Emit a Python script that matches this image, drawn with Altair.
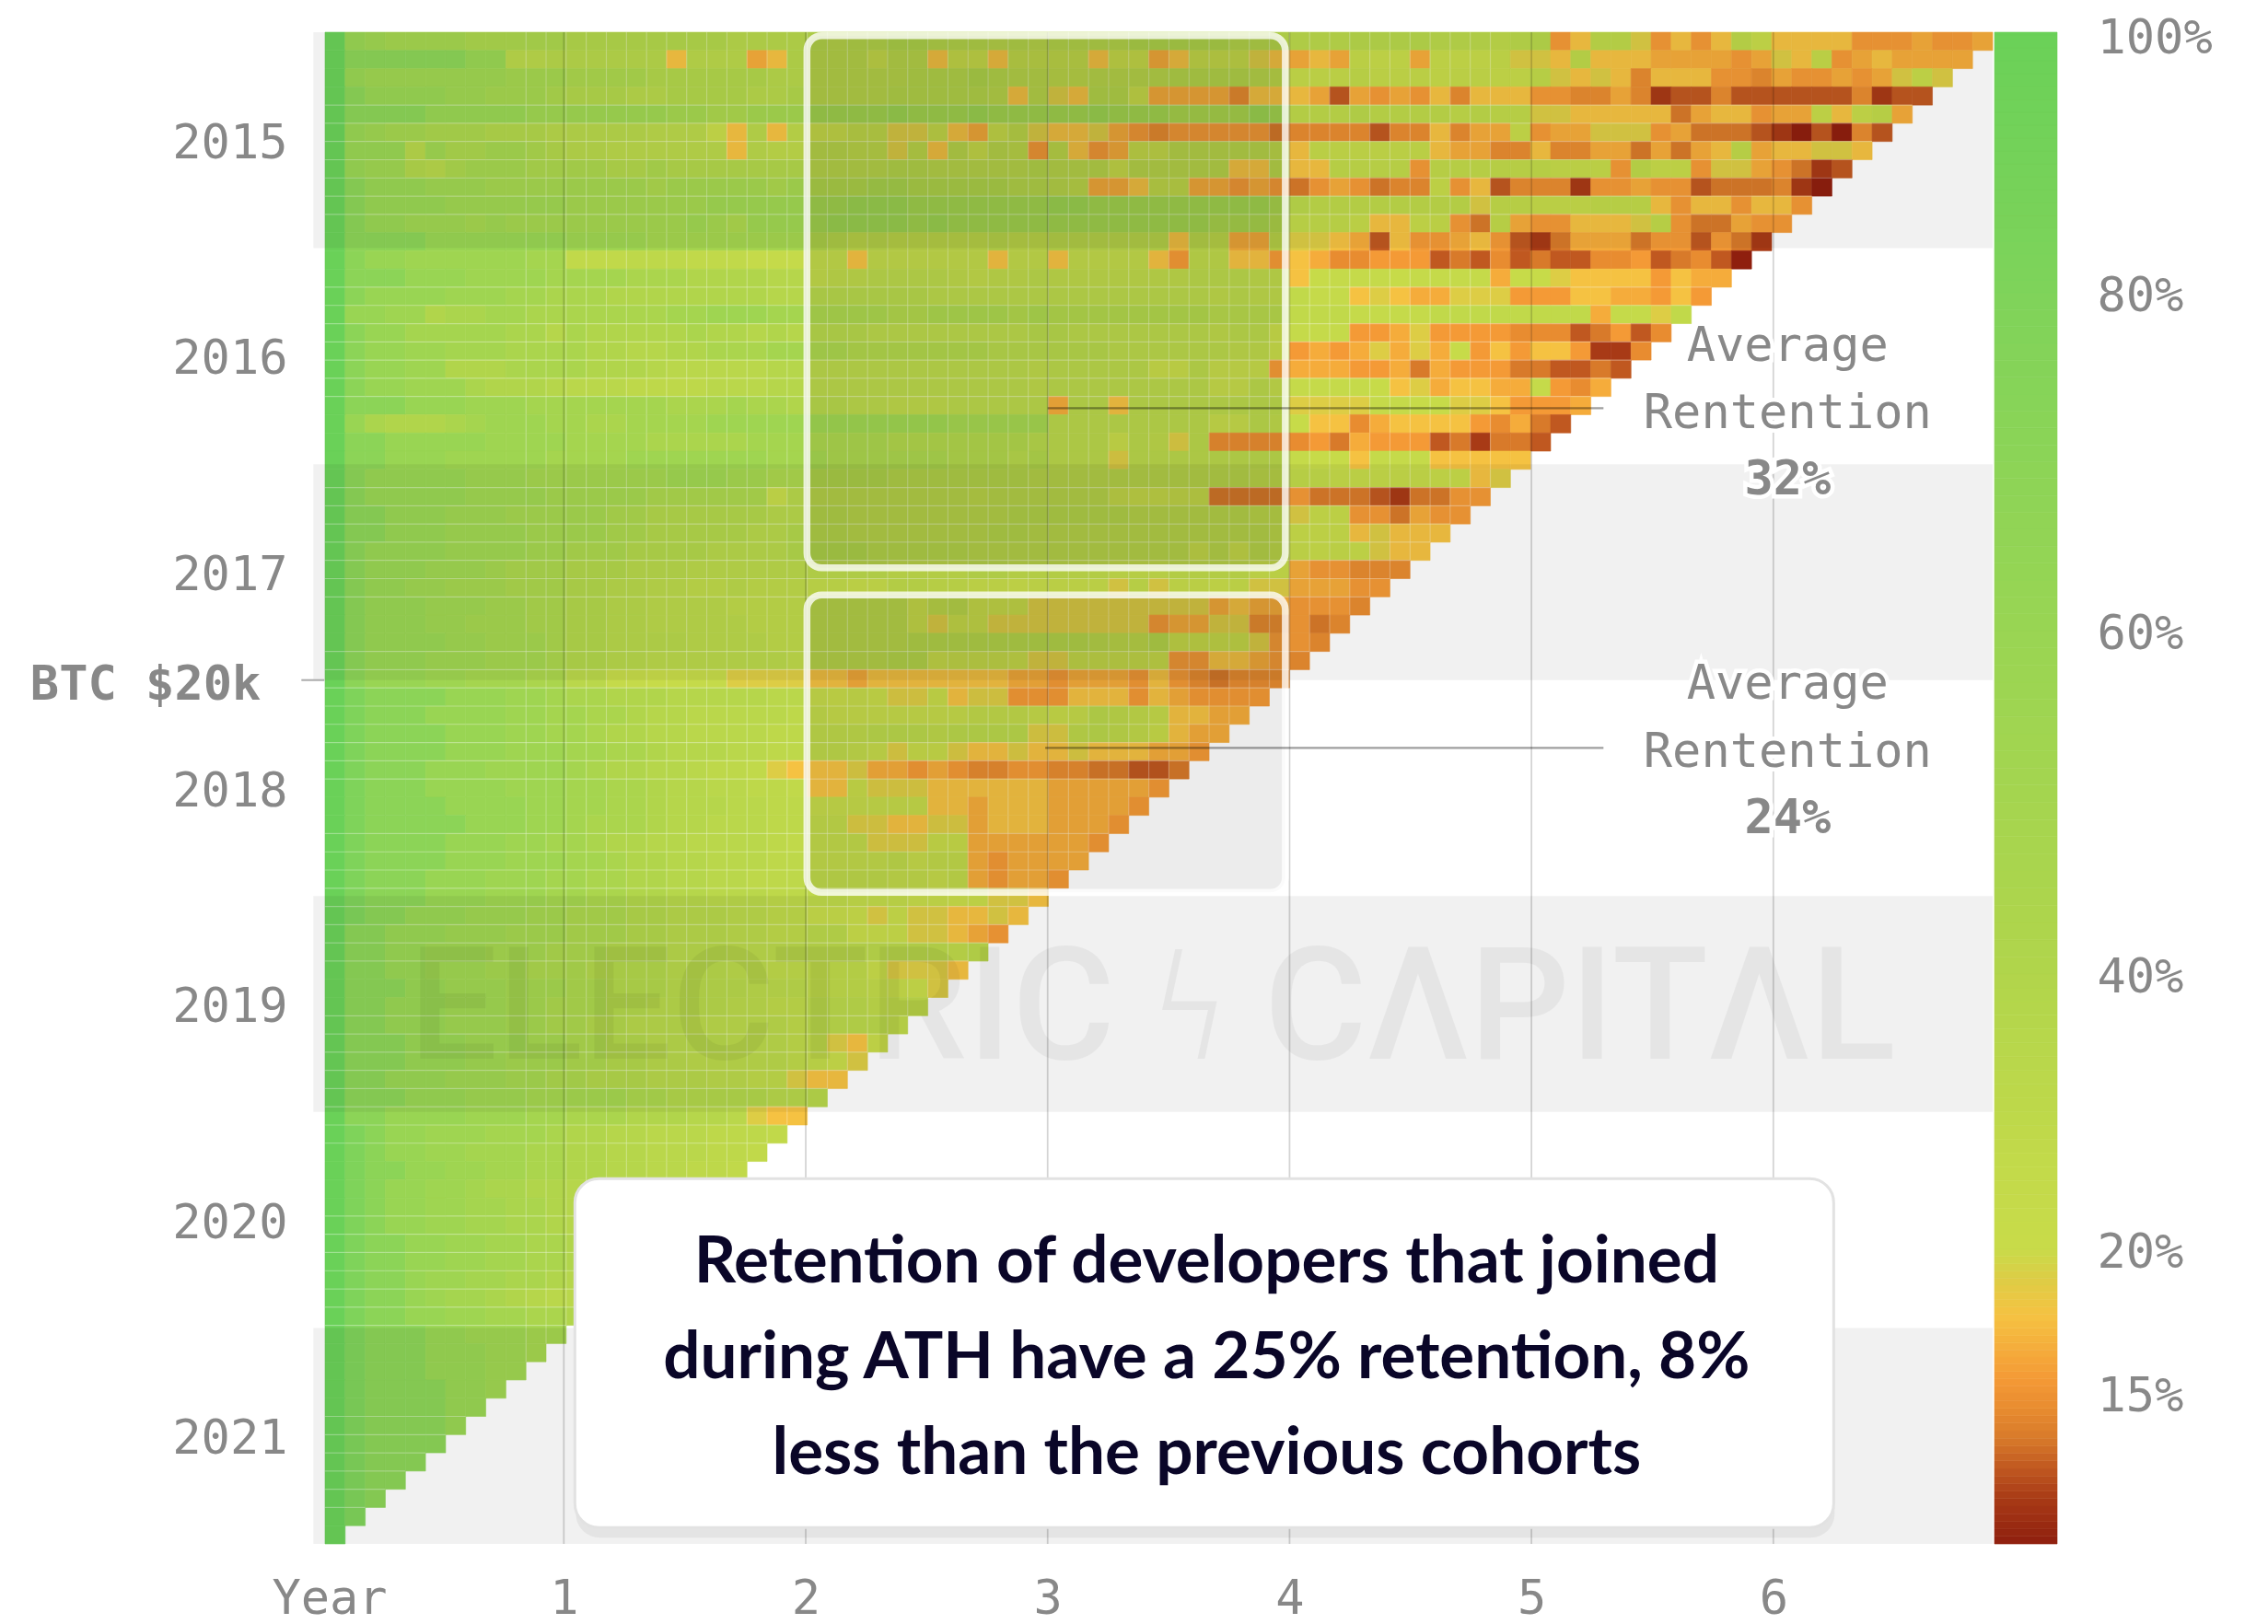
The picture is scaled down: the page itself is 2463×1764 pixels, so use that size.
import altair as alt
import pandas as pd

alt.data_transformers.disable_max_rows()

# Retention per cohort (top row = Jan 2015). One character per
# month since joining, grouped by 12 months; CODE_VALUE turns a character into a percent.
CODE_VALUE = {"0": 10, "1": 11.5, "2": 12.5, "3": 13.5, "4": 14.5, "5": 15.5, "6": 16.5, "7": 17.7,
              "8": 19, "9": 21, "a": 24, "b": 27, "c": 30, "d": 33, "e": 36, "f": 40, "g": 45,
              "h": 50, "i": 55, "j": 60, "k": 70, "l": 80, "m": 100}
ROWS = [
 "mjihhhhggggg ffffffffeeee edeeffeeeded eeeefffffeee dddeeeedddcd e57cc85757c9 77775556556",
 "mkkkkkkjjdde eeeee7ddd67e dddadd7997bb bb79967aaa87 676a996999a8 87c777666656 87a5676666",
 "mjiiiiiiihhh ggggffffffee dddddeeefedd ccddddeeeedc aaabaaa9aa99 b87874777554 655656898",
 "mkjjjjiihhhg fffeeffffeef ddddeeeeed7d 87ee96666477 762656574777 554464122422 22224122",
 "mkkkkjjjjjii iiiiihhgghhh hhhhihhhihhh hhihhhggggih cccdccccbcbb 887777736775 66979b6",
 "mjihhgggfffe eeeeddd97d7c 99bb88a769c8 778654555553 444424474669 566888563332 102042",
 "mjjjeigghhgf eedddddd7dcc ddcc8c7d9dc5 c756aadddddc 7aaaaaa76644 7446636367b6 77887",
 "mjiifeghhhgg ggffgfffffff ddddeeddddde ddd9ddddd77d 77bbbb5bbbbb baaa5c995886 5312",
 "mkjjjiiihhhh hhhhghhhhhgh fffggfffffee dc667bb66565 356534495724 441556552333 410",
 "mkjjjjiiiiii hhhhhhhiiiii hhiiihhhhhhh iihhhhhhhhhg dcccccccc8bb aaabbb757757 75",
 "mkjjiiihihhh hhhhhhihgiii hiiiihihhhhh hhhhhhhhgggf bbba779a53b6 557778b53365 5",
 "mkkkkjjjjjjj iiiihhhhhhhh fecdcccccdcc dddddd7dc66c 887627556752 136663552531",
 "mkjjiiiiiihh bbbcccbbbaaa bb7bbbbbb7bb 7bbbb75cc775 764455523242 32244523420",
 "mkkkjjjiiiih hhhgggffffee bccddddcbccd cccccccdddcc 79aaa9aaaa69 9877775766",
 "mkjjjjiiihhg ggffffffffee eeeeeedddddd ddddddddcdcc baa787668885 557766575",
 "mjjiifgghhgg ggggghhiiihh ggggffggggfg ffffffffeeee bbbaaaabbbbb bbb6aa8b",
 "mkjjhhhhhgge gfffffgffefe eeedddddddde edddddddcdd9 aaa556855554 4423524",
 "mkjjiihhhggg gffeeffggghh ggfffffffeee eeeddddddcc9 565686869575 775114",
 "mkjjiifffggg gfffedddddee dddddddddddc ddddd99daaa5 666556365553 32232",
 "mkjjiiigfffe dddccccdddee dddddddddddc ddddddddaadb aaaa97867766 a546",
 "mkkkjjjiiihh hhhhhggghggf eeddcccddddd 6dd7dddddddd 8888aa998875 556",
 "mjgfffghiiih hgghhhhiiiii iiiiiiihhhhh ddddddddaadc 977467777546 32",
 "mkkjjjjjiiii hhhhggggghhh ggggfffffffe ddd9dc8d4444 453655523133 2",
 "mkkjjjiiiiih hhhiiiiiiihh hggggggfffef ddd8dddddddd a997aaa77777",
 "mkjjjjjiiihh hhhhhiiihhgg ffffeeeeeeed ddddddddddcc bbaaaaa9978",
 "mkjjjjjiiiih hhhhggggggae ddddddddcddd ddda99aa3333 5333213355",
 "mkkjjjiiihhh hhggffffffee eeddddddddee eeeeddddddcc 899553655",
 "mkkjjjiiiihh hhggfffffeef eedddddddeed dddddddddddc 99978777",
 "mkjjjjiiiihh gggffffeeeef fffeeeeedddd dddddddad9dc a9a9877",
 "mkjjjiiihggg fffeeedddddd ddddccccddcc cccbbbccccaa 655444",
 "mkjjiihhhggg ffeeddccdccc bbaaccbbaa9a aaa8b8aa9a88 66655",
 "mkjjjiiihhgg ffeeddddcccc ddddd9cd9998 888888886766 5554",
 "mkjjjiihhhgg ffeedddddccc ddddd9899888 888885668844 534",
 "mkjjjjiihhhg ffeeeeddddcc dddddeeeeeee eedcce999985 54",
 "mkjjjiiihhhg ffeedddddddc ddddee9aaa98 8aaaa9557765 4",
 "mkjjjiihhhgg ddaa99aa8888 776777777766 566657543444",
 "mlkkkkjjjiih ggfffeeeeedd a9a988978855 57775765555",
 "mlkkkjjjjiih hggfeedddddc baaaaaaabbba 9adcba7766",
 "mlkkkkjjjiih hgffeeddddcc cccdddcdddd8 8cdcb9766",
 "mlkkkkjjjiii hhggfeeeddcc ccba89987787 78777665",
 "mlkkkjjjiiii hgffeedccb87 778665654455 4433223",
 "mlkkkjjjjiii hhggfeeddccb 779888777777 666665",
 "mlkkkkjjjjii hhggfeeeddcc aaaaaa776777 66665",
 "mlkkkkkjjjii hgggfeedddcc bb8877886777 6665",
 "mlkkkkjjjiih hgffeeddddcb bbb888996666 665",
 "mlkkkkjjjiii hhgffeedddcc bbbbcabb6566 66",
 "mlkkkjjjiiih hggffeeddccc ccccbbab6566 5",
 "mlkkkjjjiiih hggffeedddcc ccbbbaa99887",
 "mlkkjjjiiihh gggffeeeddcc aa989887787",
 "mkkjjjiiihhh gggffeeeddcc dd99988765",
 "mkkjjiiihhhg ggfffeeedddd dddddddcd",
 "mkkjjiiihhgg gffffeeeddcc ccc98887",
 "mkkkjjiiihhh ggfffeeeeddd cccba98",
 "mkkjjjiiihhg ggffeeeeddcc dddccc",
 "mkkjjjiiihhg gffeeedddddc ddddc",
 "mkkkjjjiiihh ggffeeeedddc c879",
 "mkkkjjjiihhh ggffeedddddc b98",
 "mkkjjjiiihhg gfffeeeddcc8 77",
 "mkkkjjjiiihh hhhggfffffee e",
 "mkkjjjjiiihh gggfffeed877",
 "mlkjjiiihhhg ffeedddcccb",
 "mlkjjiihhhgg ffeedddccb",
 "mlkkjjiihhgg ffeeddccb",
 "mlkjjiihggff eeddcbaa",
 "mlkjjiihhggf eedccba",
 "mlkjjiihhggf eedcba",
 "mlkkjjiihhgg feddc",
 "mlkkjjiihhgg fedc",
 "mlkkjiihhggf edc",
 "mlkkjihhgfed dc",
 "mlkkjjiihhgg f",
 "mlkkkjjiiihh",
 "mlkkkjjjiih",
 "mlkkkjjjii",
 "mlkkkkjji",
 "mlkkkkjj",
 "mlkkkkj",
 "mlkkkk",
 "mlkkk",
 "mlkk",
 "mlk",
 "ml",
 "m",
]
N = 83
# Cohort rows that show a pale seam along their top edge, and month columns that show one
SEAM_ROWS = [4, 5, 6, 7, 8, 9, 10, 14, 15, 16, 17, 18, 19, 20, 25, 26, 27, 28, 29, 30, 31,
             34, 35, 36, 37, 38, 39, 40, 41, 44, 45, 46, 47, 48, 49, 50, 51, 54, 55, 56, 57, 58, 59, 60, 61,
             65, 66, 67, 68, 69, 70, 71, 76, 77, 78, 79, 80, 81]
SEAM_COLS = list(range(10, 59))

YEAR_LABELS = [2015, 2016, 2017, 2018, 2019, 2020, 2021]
X_TICKS = [0.03, 1, 2, 3, 4, 5, 6]
GRID_YEARS = [1, 2, 3, 4, 5, 6]
SHADED_YEARS = [2015, 2017, 2019, 2021]
LEGEND_TICKS = [15, 20, 40, 60, 80, 100]
COLOR_DOMAIN = [10, 11.5, 12.5, 13.5, 14.5, 15.5, 16.6, 17.7, 19, 20, 25, 40, 60, 80, 100]
COLOR_RANGE = ["#8F1F0E", "#A83A16", "#C05820", "#D87A2A", "#E88C30", "#F49A36", "#F5AE3C", "#F5C242",
               "#DDCD45", "#C8DB49", "#C4DA4A", "#B1D54B", "#99D553", "#7FD35A", "#6AD158"]
LEGEND_STOPS = [10 + 0.25 * i for i in range(40)] + [20 + 1.0 * i for i in range(81)] + [101]

FONT_MONO = "DejaVu Sans Mono"
GREY = "#888888"
MONTHS_PER_YEAR = 12.04   # a column is slightly narrower than a twelfth of the year gridline spacing
XOFF = 0.0129
XMAX = XOFF + N / MONTHS_PER_YEAR
X_SCALE = alt.Scale(domain=[XOFF, XMAX], nice=False, zero=False)
Y_SCALE = alt.Scale(domain=[2015, 2022], reverse=True, nice=False, zero=False)
COLOR = alt.Scale(domain=COLOR_DOMAIN, range=COLOR_RANGE, interpolate="rgb", clamp=True)

X_AXIS = alt.Axis(values=X_TICKS, labelExpr="datum.value < 1 ? 'Year' : datum.value", title=None, grid=False,
                  ticks=False, domain=False, labelFont=FONT_MONO, labelFontSize=52, labelColor=GREY, labelPadding=34,
                  labelFlush=False, labelOverlap=False, labelBound=False)
Y_AXIS = alt.Axis(values=[y + 0.5 for y in YEAR_LABELS], labelExpr="floor(datum.value)", title=None, grid=False,
                  ticks=False, domain=False, labelFont=FONT_MONO, labelFontSize=52, labelColor=GREY, labelPadding=41,
                  labelOffset=3, labelFlush=False, labelOverlap=False, labelBound=False)


def X(f):
    return alt.X(f, type="quantitative", scale=X_SCALE, axis=X_AXIS)


def Y(f):
    return alt.Y(f, type="quantitative", scale=Y_SCALE, axis=Y_AXIS)


def col_x(c):
    return XOFF + c / MONTHS_PER_YEAR


def row_y(r):
    return 2015 + r * 7 / N


def py(p):  # reference pixel height -> year position
    return 2015 + (p - 34.7) / (1642 / 7)


def px(p):  # reference pixel width -> years since joining
    return (p - 350.3) / 262.7


cells = []
for r, s in enumerate(ROWS):
    s = s.replace(" ", "")
    n = N - r
    s = (s + s[-1] * n)[:n]
    for c, ch in enumerate(s):
        cells.append({"x0": col_x(c), "x1": col_x(c + 1), "y0": row_y(r), "y1": row_y(r + 1), "v": CODE_VALUE[ch]})
cells = pd.DataFrame(cells)

heat = alt.Chart(cells).mark_rect(strokeWidth=0.6).encode(
    x=X("x0"), x2="x1", y=Y("y0"), y2="y1",
    color=alt.Color("v:Q", scale=COLOR, legend=None),
    stroke=alt.Stroke("v:Q", scale=COLOR, legend=None),
)

h_seams = pd.DataFrame([{"x0": XOFF, "x1": col_x(N - r), "y": row_y(r)} for r in SEAM_ROWS])
v_seams = pd.DataFrame([{"x": col_x(c), "y0": 2015, "y1": row_y(N - c)} for c in SEAM_COLS])
seam_h = alt.Chart(h_seams).mark_rule(color="white", opacity=0.32, strokeWidth=1.2).encode(
    x=X("x0"), x2="x1", y=Y("y"))
seam_v = alt.Chart(v_seams).mark_rule(color="white", opacity=0.28, strokeWidth=1.2).encode(
    x=X("x"), y=Y("y0"), y2="y1")

bands = alt.Chart(pd.DataFrame({"x0": [px(341)] * 4, "x1": [XMAX] * 4, "y0": SHADED_YEARS,
                                "y1": [y + 1 for y in SHADED_YEARS]})).mark_rect(
    color="black", opacity=0.055).encode(x=X("x0"), x2="x1", y=Y("y0"), y2="y1")

grid = alt.Chart(pd.DataFrame({"x": GRID_YEARS, "y0": [2015] * 6, "y1": [2022] * 6})).mark_rule(
    color="black", opacity=0.17, strokeWidth=1.8).encode(x=X("x"), y=Y("y0"), y2="y1")

frames = alt.Chart(pd.DataFrame({"x0": [px(877)] * 2, "x1": [px(1396.5)] * 2,
                                 "y0": [py(38.5), py(646)], "y1": [py(616.5), py(969)]})).mark_rect(
    fill="black", fillOpacity=0.075, stroke="white", strokeOpacity=0.78, strokeWidth=7.5, cornerRadius=16
).encode(x=X("x0"), x2="x1", y=Y("y0"), y2="y1")

watermark = alt.Chart(pd.DataFrame({"x": [px(1252)], "y": [py(1099)], "t": ["ELECTRIC ϟ CΛPITΛL"]})).mark_text(
    font="Roboto", fontSize=171, fontWeight=500, color="black", opacity=0.045, align="center", baseline="middle"
).encode(x=X("x"), y=Y("y"), text="t:N")

lines = alt.Chart(pd.DataFrame({"x0": [3.0, 2.99], "x1": [px(1742)] * 2, "y": [py(443), py(812)]})).mark_rule(
    color="black", opacity=0.38, strokeWidth=2.2).encode(x=X("x0"), x2="x1", y=Y("y"))

ANN_X = px(1942)
ann = pd.DataFrame({"x": [ANN_X] * 4, "y": [py(392), py(465), py(759), py(832.6)],
                    "t": ["Average", "Rentention", "Average", "Rentention"]})
ann_b = pd.DataFrame({"x": [ANN_X] * 2, "y": [py(537), py(904.6)], "t": ["32%", "24%"]})


def text_layer(df, **kw):
    return alt.Chart(df).mark_text(**kw).encode(x=X("x"), y=Y("y"), text="t:N")


ann_kw = dict(font=FONT_MONO, fontSize=52, align="center", baseline="alphabetic")
ann_halo = text_layer(ann, color="white", stroke="white", strokeWidth=9, **ann_kw)
ann_text = text_layer(ann, color=GREY, **ann_kw)
ann_halo_b = text_layer(ann_b, color="white", stroke="white", strokeWidth=9, fontWeight="bold", **ann_kw)
ann_text_b = text_layer(ann_b, color=GREY, fontWeight="bold", **ann_kw)

btc_tick = alt.Chart(pd.DataFrame({"x0": [px(328)], "x1": [px(353)], "y": [2018]})).mark_rule(
    color="#aaaaaa", strokeWidth=2).encode(x=X("x0"), x2="x1", y=Y("y"))
btc = text_layer(pd.DataFrame({"x": [px(284)], "y": [py(744)], "t": ["BTC $20k"]}), font=FONT_MONO, fontSize=52,
                 fontWeight="bold", color=GREY, align="right", baseline="middle")

BOX_X = [px(625), px(1992)]
BOX_Y = [py(1280), py(1659)]
shadow = alt.Chart(pd.DataFrame({"x0": [BOX_X[0] + 0.004], "x1": [BOX_X[1] + 0.004], "y0": [py(1286)], "y1": [py(1670)]})).mark_rect(
    color="black", opacity=0.05, cornerRadius=26).encode(x=X("x0"), x2="x1", y=Y("y0"), y2="y1")
box = alt.Chart(pd.DataFrame({"x0": [BOX_X[0]], "x1": [BOX_X[1]], "y0": [BOX_Y[0]], "y1": [BOX_Y[1]]})).mark_rect(
    fill="white", stroke="#e2e2e2", strokeWidth=3, cornerRadius=26).encode(x=X("x0"), x2="x1", y=Y("y0"), y2="y1")
title = text_layer(pd.DataFrame({"x": [px(1311)] * 3, "y": [py(1371.5), py(1476), py(1580)], "t": [
    "Retention of developers that joined",
    "during ATH have a 25% retention, 8%",
    "less than the previous cohorts"]}),
    font="Lato", fontWeight="bold", fontSize=71, color="#0A0628", align="center", baseline="middle")

main = alt.layer(heat, seam_h, seam_v, bands, grid, frames, watermark, lines, ann_halo, ann_text, ann_halo_b,
                 ann_text_b, btc_tick, btc, shadow, box, title).properties(width=1811, height=1642)

leg = pd.DataFrame({"v0": LEGEND_STOPS[:-1], "v1": LEGEND_STOPS[1:]})
leg["mid"] = (leg.v0 + leg.v1) / 2
bar = alt.Chart(leg).mark_rect(strokeWidth=0.6).encode(
    x=alt.value(0), x2=alt.value(68),
    y=alt.Y("v0:Q", scale=alt.Scale(domain=[10, 15, 20, 40, 60, 80, 100, 101],
                                    range=[1642, 1478, 1322, 1023, 650, 283, 3, 0], nice=False, zero=False),
            axis=alt.Axis(values=LEGEND_TICKS, labelExpr="datum.value + '%'", orient="right", title=None,
                          grid=False, ticks=False, domain=False, labelFont=FONT_MONO, labelFontSize=52,
                          labelColor=GREY, labelPadding=43, labelOffset=3, labelOverlap=False, labelBound=False,
                          labelFlush=False)),
    y2="v1:Q",
    color=alt.Color("mid:Q", scale=COLOR, legend=None),
    stroke=alt.Stroke("mid:Q", scale=COLOR, legend=None),
).properties(width=68, height=1642)

chart = alt.hconcat(main, bar, spacing=0).resolve_scale(color="shared", y="independent").properties(
    padding={"left": 24, "top": 7, "right": 5, "bottom": 5}, background="white"
).configure_view(stroke=None)

chart.save("out.html", embed_options={"renderer": "svg", "actions": False})
